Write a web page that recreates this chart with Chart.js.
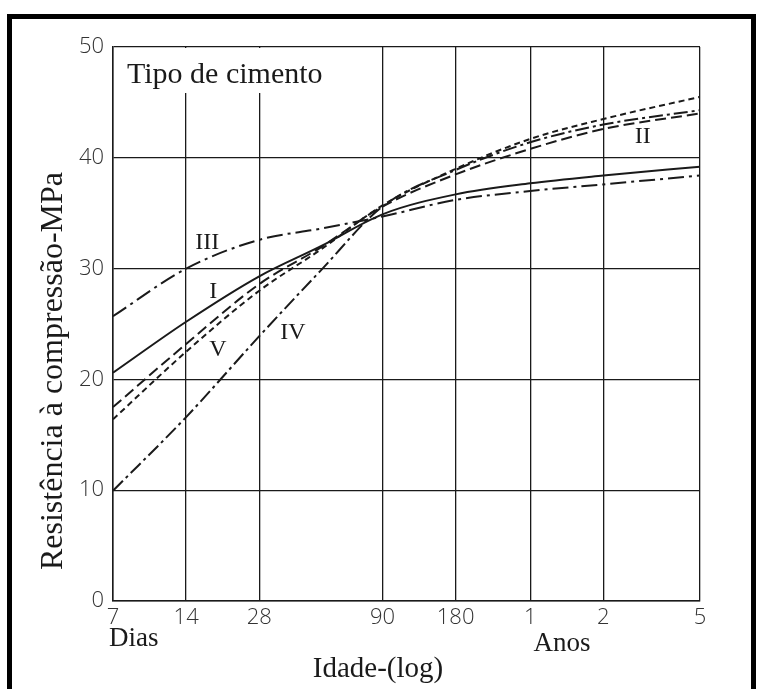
<!DOCTYPE html>
<html>
<head>
<meta charset="utf-8">
<script src="https://cdn.jsdelivr.net/npm/chart.js@4.4.1/dist/chart.umd.min.js"></script>
<style>
  body { margin: 0; background: #fff; }
  canvas { display: block; }
</style>
</head>
<body>
<canvas id="chart" width="758" height="689"></canvas>
<script>
// idade em dias (eixo log)
var ages = [7, 14, 28, 50, 90, 180, 365, 730, 1825];

// resistencia (MPa) por tipo de cimento
var tipoI   = [20.6, 25.2, 29.3, 32.0, 34.9, 36.7, 37.7, 38.4, 39.2];
var tipoII  = [17.5, 23.2, 28.6, 31.9, 35.6, 38.5, 40.8, 42.6, 44.0];
var tipoIII = [25.7, 30.0, 32.6, 33.6, 34.7, 36.2, 37.0, 37.6, 38.4];
var tipoIV  = [9.95, 16.6, 23.9, 29.8, 35.6, 38.9, 41.4, 43.0, 44.3];
var tipoV   = [16.4, 22.5, 28.0, 31.7, 35.7, 39.0, 41.7, 43.5, 45.5];

// marcas do eixo x
var xTicks = [7, 14, 28, 90, 180, 365, 730, 1825];
var xTickLabels = ['7', '14', '28', '90', '180', '1', '2', '5'];

function points(values) {
    return ages.map(function(a, i) { return {x: a, y: values[i]}; });
}

var ink = '#1a1a1a';
var serif = '"Liberation Serif", "DejaVu Serif", serif';

// textos fora do grafico, rotulos das curvas e moldura
var extras = {
    id: 'extras',
    beforeDatasetsDraw: function(chart) {
        var ctx = chart.ctx;
        var area = chart.chartArea;
        // caixa branca atras do titulo
        ctx.save();
        ctx.fillStyle = '#fff';
        ctx.fillRect(area.left + 1, area.top + 1, 226, 45);
        ctx.fillStyle = ink;
        ctx.font = '30px ' + serif;
        ctx.textBaseline = 'alphabetic';
        ctx.fillText('Tipo de cimento', 127, 83);
        ctx.restore();
    },
    afterDraw: function(chart) {
        var ctx = chart.ctx;
        var xs = chart.scales.x, ys = chart.scales.y;
        ctx.save();
        ctx.fillStyle = ink;

        // rotulos das curvas
        ctx.font = '24px ' + serif;
        ctx.textAlign = 'center';
        ctx.textBaseline = 'middle';
        [['III', 17.1, 32.3], ['I', 18.1, 27.9], ['V', 18.9, 22.7],
         ['IV', 38.5, 24.2], ['II', 1060, 41.9]].forEach(function(l) {
            ctx.fillText(l[0], xs.getPixelForValue(l[1]), ys.getPixelForValue(l[2]));
        });

        // Dias / Anos / titulo x
        ctx.font = '27px ' + serif;
        ctx.textBaseline = 'alphabetic';
        ctx.textAlign = 'left';
        ctx.fillText('Dias', 109, 646);
        ctx.textAlign = 'center';
        ctx.fillText('Anos', 562, 651);
        ctx.font = '29px ' + serif;
        ctx.fillText('Idade-(log)', 378, 677);

        // titulo y
        ctx.translate(54, 371);
        ctx.rotate(-Math.PI / 2);
        ctx.font = '32px ' + serif;
        ctx.textAlign = 'center';
        ctx.textBaseline = 'middle';
        ctx.fillText('Resistência à compressão-MPa', 0, 0);
        ctx.restore();

        // moldura preta da figura
        ctx.save();
        ctx.strokeStyle = '#000';
        ctx.lineWidth = 5;
        ctx.beginPath();
        ctx.moveTo(9.5, 700);
        ctx.lineTo(9.5, 16.5);
        ctx.lineTo(753.5, 16.5);
        ctx.lineTo(753.5, 700);
        ctx.stroke();
        ctx.restore();
    }
};

var tickFont = { family: '"Open Sans", "DejaVu Sans", sans-serif', size: 22, weight: 300 };

new Chart(document.getElementById('chart'), {
    type: 'line',
    data: {
        datasets: [
            { label: 'I',   data: points(tipoI),   borderDash: [] },
            { label: 'II',  data: points(tipoII),  borderDash: [11, 5] },
            { label: 'III', data: points(tipoIII), borderDash: [16, 5, 3, 5] },
            { label: 'IV',  data: points(tipoIV),  borderDash: [14, 4, 3, 4] },
            { label: 'V',   data: points(tipoV),   borderDash: [6, 4] }
        ].map(function(d) {
            d.borderColor = ink;
            d.borderWidth = 2;
            d.pointRadius = 0;
            d.fill = false;
            d.cubicInterpolationMode = 'monotone';
            return d;
        })
    },
    options: {
        responsive: false,
        animation: false,
        layout: { padding: { left: 0, top: 47, right: 58, bottom: 0 } },
        plugins: {
            legend: { display: false },
            tooltip: { enabled: false }
        },
        scales: {
            x: {
                type: 'logarithmic',
                min: 7,
                max: 1825,
                afterBuildTicks: function(scale) {
                    scale.ticks = xTicks.map(function(v) { return {value: v}; });
                },
                afterFit: function(scale) { scale.height = 88; },
                border: { color: ink, width: 1.5 },
                grid: { color: ink, lineWidth: 1.3, drawTicks: false },
                ticks: {
                    color: '#333',
                    font: tickFont,
                    padding: 4,
                    maxRotation: 0,
                    autoSkip: false,
                    callback: function(value) {
                        var i = xTicks.indexOf(value);
                        return i >= 0 ? xTickLabels[i] : '';
                    }
                }
            },
            y: {
                min: 0,
                max: 50,
                afterFit: function(scale) { scale.width = 113; },
                border: { color: ink, width: 1.5 },
                grid: { color: ink, lineWidth: 1.3, drawTicks: false },
                ticks: {
                    stepSize: 10,
                    color: '#333',
                    font: tickFont,
                    padding: 9
                }
            }
        }
    },
    plugins: [extras]
});
</script>
</body>
</html>
